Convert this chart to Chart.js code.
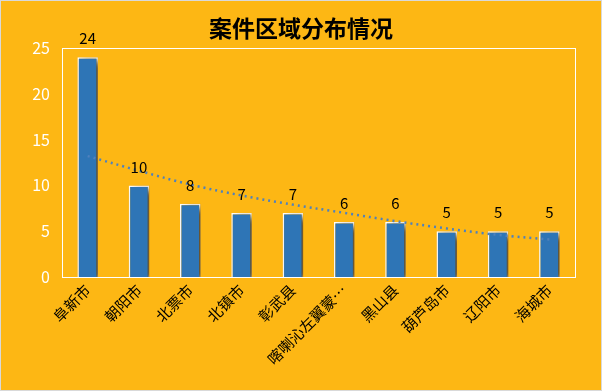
<!DOCTYPE html>
<html>
<head>
<meta charset="utf-8">
<script src="https://cdn.jsdelivr.net/npm/chart.js@4"></script>
<style>
html,body{margin:0;padding:0;background:#FDB714;}
#wrap{width:602px;height:391px;position:relative;}
</style>
</head>
<body>
<div id="wrap"><canvas id="c" width="602" height="391"></canvas></div>
<script>
const categories = ["阜新市","朝阳市","北票市","北镇市","彰武县","喀喇沁左翼蒙…","黑山县","葫芦岛市","辽阳市","海城市"];
const caseCounts = [24,10,8,7,7,6,6,5,5,5];
const trendValues = [13.2,11.6,10.1,8.9,7.9,7.0,6.1,5.3,4.6,4.1];
const yTicks = [0,5,10,15,20,25];
const titleText = "案件区域分布情况";

const FONT = '"Noto Sans CJK SC", "Noto Sans", sans-serif';

const decor = {
  id: 'decor',
  beforeDraw(chart) {
    const ctx = chart.ctx;
    ctx.save();
    ctx.fillStyle = '#FDB714';
    ctx.fillRect(0, 0, chart.width, chart.height);
    ctx.restore();
  },
  beforeDatasetDraw(chart, args) {
    if (chart.data.datasets[args.index].type === 'bar') {
      const ctx = chart.ctx;
      ctx.save();
      ctx.shadowColor = 'rgba(70,45,0,0.9)';
      ctx.shadowOffsetX = 5;
      ctx.shadowOffsetY = 3;
      ctx.shadowBlur = 7;
    }
  },
  afterDatasetDraw(chart, args) {
    if (chart.data.datasets[args.index].type === 'bar') {
      chart.ctx.restore();
    }
  },
  afterDatasetsDraw(chart) {
    const ctx = chart.ctx;
    const a = chart.chartArea;
    ctx.save();
    // plot border
    ctx.strokeStyle = '#FFFFFF';
    ctx.lineWidth = 1;
    ctx.strokeRect(Math.round(a.left) + 0.5, Math.round(a.top) + 0.5, Math.round(a.right - a.left), Math.round(a.bottom - a.top));
    // data labels
    const meta = chart.getDatasetMeta(0);
    ctx.fillStyle = '#000000';
    ctx.font = '15px ' + FONT;
    ctx.textAlign = 'center';
    ctx.textBaseline = 'bottom';
    meta.data.forEach((bar, i) => {
      ctx.fillText(String(caseCounts[i]), bar.x, bar.y - 11);
    });
    // title
    ctx.font = 'bold 23px ' + FONT;
    ctx.textBaseline = 'middle';
    ctx.fillText(titleText, chart.width / 2, 28);
    // outer border
    ctx.strokeStyle = '#D9D9D9';
    ctx.strokeRect(0.5, 0.5, chart.width - 1, chart.height - 1);
    ctx.restore();
  }
};

new Chart(document.getElementById('c'), {
  data: {
    labels: categories,
    datasets: [
      {
        type: 'bar',
        label: '案件数',
        data: caseCounts,
        backgroundColor: '#2E75B6',
        borderColor: '#FFFFFF',
        borderWidth: 1.5,
        barPercentage: 0.4,
        categoryPercentage: 1.0,
        order: 2
      },
      {
        type: 'line',
        label: '趋势',
        data: trendValues,
        borderColor: '#4F81BD',
        borderWidth: 2.5,
        borderDash: [2, 4],
        pointRadius: 0,
        tension: 0.4,
        fill: false,
        order: 1
      }
    ]
  },
  plugins: [decor],
  options: {
    responsive: false,
    animation: false,
    layout: { padding: { left: 0, right: 27, top: 48, bottom: 10 } },
    plugins: {
      legend: { display: false },
      tooltip: { enabled: false },
      title: { display: false }
    },
    scales: {
      x: {
        grid: { display: false, drawTicks: false },
        border: { display: false },
        ticks: {
          color: '#000000',
          font: { family: FONT, size: 15 },
          maxRotation: 45,
          minRotation: 45,
          autoSkip: false,
          padding: 4
        },
        afterFit(s) { s.height = 104; }
      },
      y: {
        min: 0,
        max: 25,
        grid: { display: false, drawTicks: false },
        border: { display: false },
        afterBuildTicks(s) { s.ticks = yTicks.map(v => ({ value: v })); },
        ticks: {
          color: '#FFFFFF',
          font: { family: FONT, size: 16 },
          padding: 12
        },
        afterFit(s) { s.width = 62; }
      }
    }
  }
});
</script>
</body>
</html>
